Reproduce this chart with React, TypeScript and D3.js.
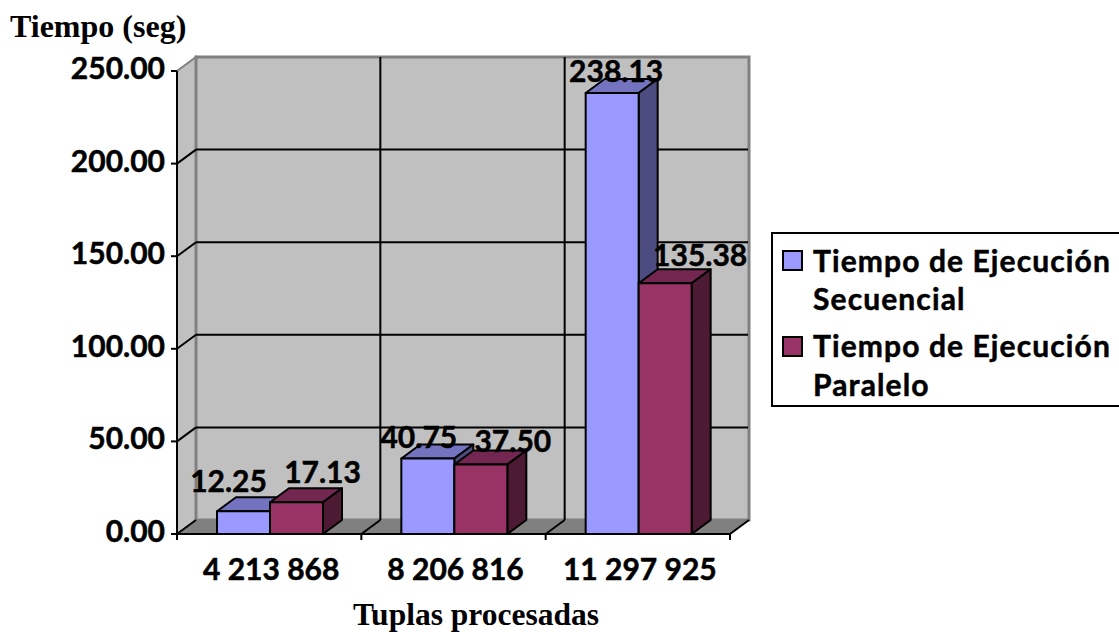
import React from "react";
import * as d3 from "d3";

const categories = ["4 213 868", "8 206 816", "11 297 925"];
const secuencial = [12.25, 40.75, 238.13];
const paralelo = [17.13, 37.5, 135.38];
const yTicks = [0, 50, 100, 150, 200, 250];

// Hand-placed data label offsets from the front-top centre of each bar, as [dx, dy].
const secuencialLabelShift = [[-15, -19], [-9, -11], [4, -11]];
const paraleloLabelShift = [[26, -19], [32, -13], [35, -17]];

const W = 1119, H = 632;
const DX = 19, DY = 14;
const FRONT = "#9999ff", TOP1 = "#7373bf", SIDE1 = "#4c4c80";
const FRONT2 = "#993366", TOP2 = "#732650", SIDE2 = "#4d1a33";
const LABEL_FONT = "Lato, 'Noto Sans', sans-serif";
const TITLE_FONT = "'Liberation Serif', serif";

const y = d3.scaleLinear().domain([0, 250]).range([534, 71]);
const x0 = d3.scaleBand<string>().domain(categories).range([177, 730]);
const barW = 53;
const barInset = 40;
const pts = (p: [number, number][]) => p.map((q) => q.join(",")).join(" ");

function Bar({ cx, v, front, top, side }: { cx: number; v: number; front: string; top: string; side: string }) {
  const yt = y(v), yb = y(0), r = cx + barW;
  return (
    <g stroke="#000" strokeWidth={2} strokeLinejoin="round">
      <polygon points={pts([[cx, yt], [cx + DX, yt - DY], [r + DX, yt - DY], [r, yt]])} fill={top} />
      <polygon points={pts([[r, yt], [r + DX, yt - DY], [r + DX, yb - DY], [r, yb]])} fill={side} />
      <rect x={cx} y={yt} width={barW} height={yb - yt} fill={front} />
    </g>
  );
}

export default function App() {
  const yBack = (v: number) => y(v) - DY;
  const left = x0.range()[0], right = x0.range()[1];
  return (
    <svg width={W} height={H} style={{ position: "absolute", left: 0, top: 0, background: "#fff" }}>
      {/* walls and floor */}
      <polygon points={pts([[left, y(250)], [left + DX, yBack(250)], [left + DX, yBack(0)], [left, y(0)]])} fill="#c0c0c0" stroke="#808080" strokeWidth={2} />
      <rect x={left + DX} y={yBack(250)} width={right - left} height={y(0) - y(250)} fill="#c0c0c0" stroke="#808080" strokeWidth={3} />
      <polygon points={pts([[left, y(0)], [left + DX, yBack(0)], [right + DX, yBack(0)], [right, y(0)]])} fill="#808080" stroke="#808080" />
      {/* gridlines */}
      {yTicks.map((t) => (
        <g key={t} stroke="#000" strokeWidth={2} fill="none">
          {t > 0 && t < 250 && <line x1={left + DX} x2={right + DX - 1} y1={yBack(t)} y2={yBack(t)} />}
          {t < 250 && <line x1={left} y1={y(t)} x2={left + DX} y2={yBack(t)} />}
        </g>
      ))}
      {categories.slice(1).map((c) => {
        const xx = x0(c)!;
        return (
          <g key={c} stroke="#000" strokeWidth={2}>
            <line x1={xx + DX} x2={xx + DX} y1={yBack(250)} y2={yBack(0)} />
            <line x1={xx} y1={y(0)} x2={xx + DX} y2={yBack(0)} />
          </g>
        );
      })}
      <line x1={right} y1={y(0)} x2={right + DX} y2={yBack(0)} stroke="#000" strokeWidth={2} />
      {/* axes */}
      <g stroke="#000" strokeWidth={2}>
        <line x1={left} x2={left} y1={y(250)} y2={y(0)} />
        <line x1={left} x2={right} y1={y(0)} y2={y(0)} />
        {yTicks.map((t) => <line key={t} x1={left - 6} x2={left} y1={y(t)} y2={y(t)} />)}
        {[...categories.map((c) => x0(c)!), right].map((xx) => <line key={xx} x1={xx} x2={xx} y1={y(0)} y2={y(0) + 6} />)}
      </g>
      {/* bars */}
      {categories.map((c, i) => {
        const cx = x0(c)! + barInset;
        return (
          <g key={c}>
            <Bar cx={cx} v={secuencial[i]} front={FRONT} top={TOP1} side={SIDE1} />
            <Bar cx={cx + barW} v={paralelo[i]} front={FRONT2} top={TOP2} side={SIDE2} />
          </g>
        );
      })}
      {/* value labels, tick labels */}
      <g fontFamily={LABEL_FONT} fontWeight={700} fontSize={30} stroke="#000" strokeWidth={0.5} textAnchor="middle" fill="#000">
        {categories.map((c, i) => {
          const cx = x0(c)! + barInset + barW / 2;
          return (
            <g key={c}>
              <text x={cx + secuencialLabelShift[i][0]} y={y(secuencial[i]) + secuencialLabelShift[i][1]}>{secuencial[i].toFixed(2)}</text>
              <text x={cx + barW + paraleloLabelShift[i][0]} y={y(paralelo[i]) + paraleloLabelShift[i][1]}>{paralelo[i].toFixed(2)}</text>
            </g>
          );
        })}
        {yTicks.map((t) => (
          <text key={t} x={165} y={y(t) + 8} textAnchor="end">{t.toFixed(2)}</text>
        ))}
        {categories.map((c) => (
          <text key={c} x={x0(c)! + x0.bandwidth() / 2 + 2} y={580}>{c}</text>
        ))}
      </g>
      {/* axis titles */}
      <g fontFamily={TITLE_FONT} fontWeight={700} fill="#000" fontSize={32}>
        <text x={10} y={37}>Tiempo (seg)</text>
        <text x={353} y={625} fontSize={31.5}>Tuplas procesadas</text>
      </g>
      {/* legend */}
      <rect x={772} y={233} width={360} height={173} fill="#fff" stroke="#000" strokeWidth={2} />
      <rect x={783} y={251} width={19} height={19} fill={FRONT} stroke="#000" strokeWidth={2} />
      <rect x={783} y={337} width={19} height={19} fill={FRONT2} stroke="#000" strokeWidth={2} />
      <g fontFamily={LABEL_FONT} fontWeight={700} fontSize={30} letterSpacing={1.1} stroke="#000" strokeWidth={0.5} fill="#000">
        <text x={813} y={272}>Tiempo de Ejecución</text>
        <text x={813} y={310}>Secuencial</text>
        <text x={813} y={357}>Tiempo de Ejecución</text>
        <text x={813} y={396}>Paralelo</text>
      </g>
    </svg>
  );
}
